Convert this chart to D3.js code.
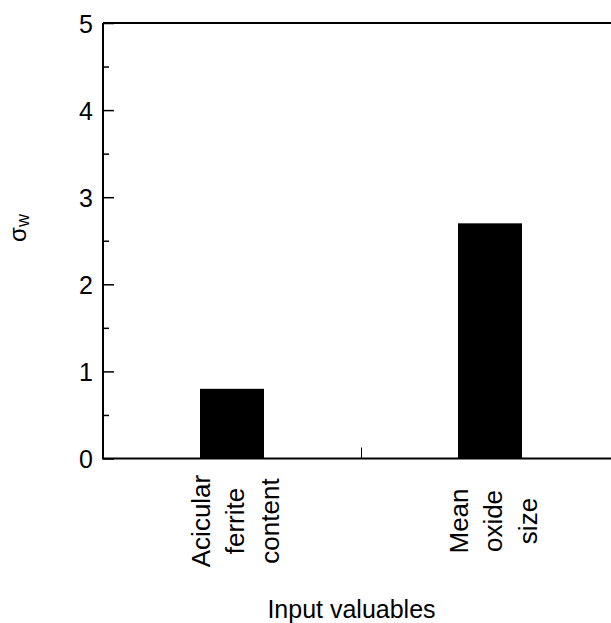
<!DOCTYPE html>
<html><head><meta charset="utf-8">
<script src="https://cdn.jsdelivr.net/npm/d3@7"></script>
<style>body{margin:0;background:#fff}svg{display:block}text{font-family:"Liberation Sans",Arial,sans-serif;fill:#000}</style>
</head><body>
<script>
const categories = [["Acicular","ferrite","content"],["Mean","oxide","size"]];
const values = [0.8, 2.7];
const yTicks = [0,1,2,3,4,5];
const yMinorTicks = [0.5,1.5,2.5,3.5,4.5];

const W=611,H=623;
const L=103,T=23,B=458.5,R=619;
const svg=d3.select("body").append("svg").attr("width",W).attr("height",H);
const y=d3.scaleLinear().domain([0,5]).range([B,T]);
const x=d3.scaleBand().domain(d3.range(categories.length)).range([L,R]).padding(0);
const bw=x.bandwidth()*0.248;

// bars
svg.selectAll("rect.bar").data(values).enter().append("rect")
 .attr("x",(d,i)=>x(i)+x.bandwidth()/2-bw/2).attr("width",bw)
 .attr("y",d=>y(d)).attr("height",d=>B-y(d)).attr("fill","#000");

// y axis
const ya=svg.append("g").attr("transform",`translate(${L},0)`)
 .call(d3.axisLeft(y).tickValues(yTicks).tickSize(-11).tickPadding(10).tickFormat(d3.format("d")));
ya.select(".domain").remove();
ya.selectAll("line").attr("stroke","#000").attr("stroke-width",1.5);
ya.selectAll("text").style("font-size","25px").attr("dy","0.36em");
const ym=svg.append("g").attr("transform",`translate(${L},0)`)
 .call(d3.axisLeft(y).tickValues(yMinorTicks).tickSize(-6).tickFormat(""));
ym.select(".domain").remove();
ym.selectAll("line").attr("stroke","#000").attr("stroke-width",1.5);

// frame lines
svg.append("line").attr("x1",L).attr("x2",L).attr("y1",T).attr("y2",B).attr("stroke","#000").attr("stroke-width",2);
svg.append("line").attr("x1",L).attr("x2",W).attr("y1",T).attr("y2",T).attr("stroke","#000").attr("stroke-width",2);
svg.append("line").attr("x1",L-1).attr("x2",W).attr("y1",B).attr("y2",B).attr("stroke","#000").attr("stroke-width",2);

// x band boundary ticks
const xa=svg.append("g").attr("transform",`translate(0,${B})`)
 .call(d3.axisTop(d3.scaleLinear().domain([L,R]).range([L,R])).tickValues([x(1)]).tickSize(11).tickFormat(""));
xa.select(".domain").remove();
xa.selectAll("line").attr("stroke","#000").attr("stroke-width",1);

// category labels
const lineGap=34.5;
categories.forEach((lines,i)=>{
  const cx=x(i)+x.bandwidth()/2+3;
  lines.forEach((t,j)=>{
    const lx=cx+(j-1)*lineGap;
    svg.append("text").attr("transform",`translate(${lx+9},521) rotate(-90)`)
      .attr("text-anchor","middle").style("font-size","26px").text(t);
  });
});

// axis titles
svg.append("text").attr("x",351.5).attr("y",618).attr("text-anchor","middle")
 .style("font-size","25px").text("Input valuables");
const yt=svg.append("text").attr("transform","translate(26,228) rotate(-90)")
 .attr("text-anchor","middle").style("font-size","24px");
yt.append("tspan").text("σ");
yt.append("tspan").attr("dy","3").style("font-size","18px").text("w");
</script>
</body></html>
